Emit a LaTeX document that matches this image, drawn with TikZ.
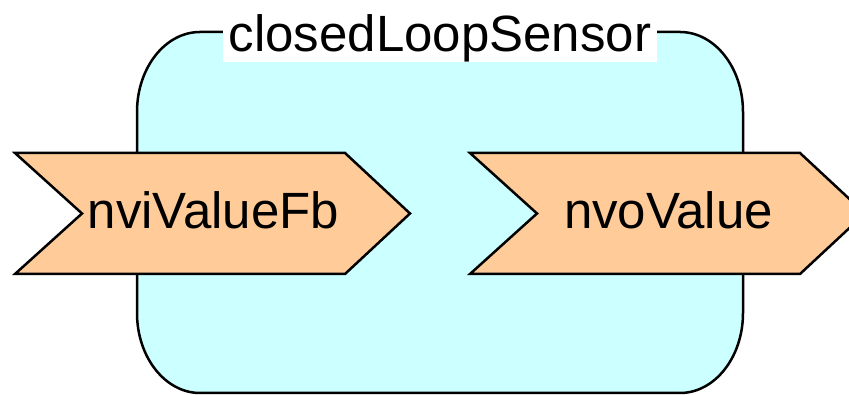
\documentclass[tikz,border=0pt]{standalone}
\usepackage{fontspec}
\setmainfont{Liberation Sans}
\usepackage{xcolor}
\usetikzlibrary{positioning}

\definecolor{blockcyan}{HTML}{CCFFFF}
\definecolor{portorange}{HTML}{FFCC99}

\tikzset{
  outline/.style={draw=black, line width=2.5pt, line join=miter},
  portlabel/.style={anchor=base, inner sep=0pt, font=\fontsize{51}{60}\selectfont}
}

\begin{document}
\begin{tikzpicture}[x=1pt, y=1pt]
    \useasboundingbox (0,0) rectangle (849,395);
    \clip (0,0) rectangle (849,395);

    % Block body with rounded corners
    \filldraw[outline, fill=blockcyan]
      (200,363) -- (680,363)
      arc[start angle=90, end angle=0, x radius=63pt, y radius=80pt]
      -- (743,82)
      arc[start angle=0, end angle=-90, x radius=63pt, y radius=80pt]
      -- (200,2)
      arc[start angle=270, end angle=180, x radius=63pt, y radius=80pt]
      -- (137,283)
      arc[start angle=180, end angle=90, x radius=63pt, y radius=80pt]
      -- cycle;

    % Input port
    \filldraw[outline, fill=portorange]
      (15,242) -- (345,242) -- (410,181.5) -- (345,121) -- (15,121) -- (82,181.5) -- cycle;
    \node[portlabel] (nviValueFb) at (213.5,166) {nviValueFb};

    % Output port
    \filldraw[outline, fill=portorange]
      (470,242) -- (800,242) -- (865,181.5) -- (800,121) -- (470,121) -- (537,181.5) -- cycle;
    \node[portlabel] (nvoValue) at (668.5,166) {nvoValue};

    % Block title
    \node[anchor=base, fill=white, inner xsep=6pt, inner ysep=0pt,
          text height=47pt, text depth=10pt, font=\fontsize{51}{60}\selectfont]
      (title) at (440,343) {closedLoopSensor};
\end{tikzpicture}
\end{document}
